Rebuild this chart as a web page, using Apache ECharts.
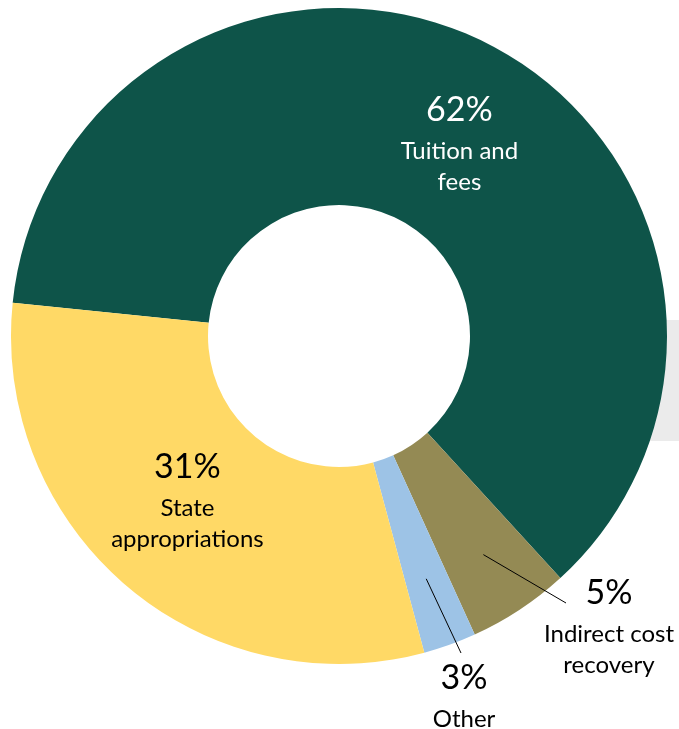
<!DOCTYPE html>
<html>
<head>
<meta charset="utf-8">
<script src="https://cdn.jsdelivr.net/npm/echarts@6/dist/echarts.min.js"></script>
<style>
html,body{margin:0;padding:0;background:#fff;}
#chart{width:679px;height:729px;}
</style>
</head>
<body>
<div id="chart"></div>
<script>
// ---- data ----
const categories = ['Tuition and\nfees', 'Indirect cost\nrecovery', 'Other', 'State\nappropriations'];
const shares = [61.6, 5.0, 2.6, 30.8];
const colors = ['#0E5449', '#948A54', '#9DC3E6', '#FFD966'];
const labelColors = ['#FFFFFF', '#000000', '#000000', '#000000'];

// ---- geometry / style ----
const CX = 339, CY = 336, R_IN = 131, R_OUT = 328;
const START = 174.2; // math degrees, clockwise

// label adjustments (relative to pie centre, px)
const labelAdjust = {
  0: { dx: 16, dy: 13 },
  1: { pos: [270, 288], lineEnd: [227, 267], lineStartR: 262 },
  2: { pos: [125, 358], lineEnd: [122, 317], lineStartR: 258 },
  3: { dx: -1, dy: -15 }
};

const total = shares.reduce((a, b) => a + b, 0);
function midAngleRad(i) {
  let cum = 0;
  for (let k = 0; k < i; k++) cum += shares[k];
  const screenDeg = -START + (cum + shares[i] / 2) / total * 360;
  return screenDeg * Math.PI / 180;
}

// leader lines for the outside labels, derived from each slice's mid angle
const leaderLines = [];
Object.keys(labelAdjust).forEach(function (k) {
  const i = +k, a = labelAdjust[k];
  if (!a.pos) return;
  const ang = midAngleRad(i);
  leaderLines.push({
    type: 'line',
    z: 100,
    silent: true,
    shape: {
      x1: CX + a.lineStartR * Math.cos(ang),
      y1: CY + a.lineStartR * Math.sin(ang),
      x2: CX + a.lineEnd[0],
      y2: CY + a.lineEnd[1]
    },
    style: { stroke: '#000', lineWidth: 1 }
  });
});

const chart = echarts.init(document.getElementById('chart'), null, { renderer: 'canvas' });

const data = categories.map((name, i) => ({
  name: name,
  value: shares[i],
  itemStyle: { color: colors[i] },
  label: {
    position: (i === 1 || i === 2) ? 'outside' : 'inside',
    color: labelColors[i],
    rich: {
      p: { fontSize: 34, lineHeight: 51, color: labelColors[i], fontFamily: 'Lato' },
      n: { fontSize: 24, lineHeight: 31, color: labelColors[i], fontFamily: 'Lato' }
    }
  }
}));

chart.setOption({
  animation: false,
  graphic: [{
    type: 'rect',
    z: -10,
    silent: true,
    shape: { x: 640, y: 320, width: 39, height: 121 },
    style: { fill: '#EBEBEB' }
  }].concat(leaderLines),
  series: [{
    type: 'pie',
    center: [CX, CY],
    radius: [R_IN, R_OUT],
    startAngle: START,
    clockwise: true,
    avoidLabelOverlap: false,
    silent: true,
    itemStyle: { borderWidth: 0 },
    label: {
      show: true,
      fontFamily: 'Lato',
      align: 'center',
      formatter: function (p) {
        const lines = p.name.split('\n').map(s => '{n|' + s + '}').join('\n');
        return '{p|' + Math.round(p.percent) + '%}\n' + lines;
      }
    },
    labelLine: { show: false },
    labelLayout: function (params) {
      const i = params.dataIndex;
      const a = labelAdjust[i];
      if (!a) return {};
      if (a.pos) {
        return {
          x: CX + a.pos[0],
          y: CY + a.pos[1],
          align: 'center',
          verticalAlign: 'middle'
        };
      }
      return { dx: a.dx, dy: a.dy };
    },
    data: data
  }]
});
</script>
</body>
</html>
